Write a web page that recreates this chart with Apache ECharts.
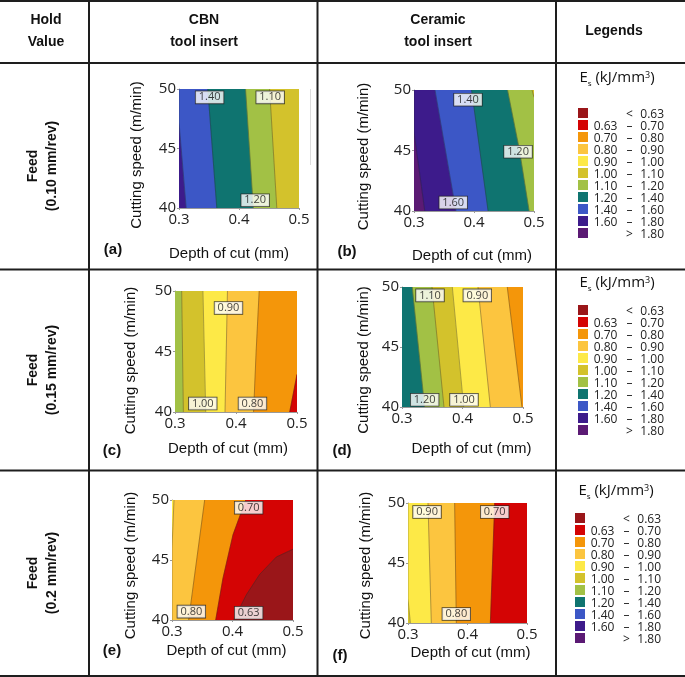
<!DOCTYPE html>
<html>
<head>
<meta charset="utf-8">
<title>Es contour maps</title>
<script src="https://cdn.jsdelivr.net/npm/echarts@6/dist/echarts.min.js"></script>
<style>html,body{margin:0;background:#fff}#main{width:685px;height:677px}</style>
</head>
<body>
<div id="main"></div>
<script>
// axes: depth of cut (mm) and cutting speed (m/min)
var depthRange = [0.3, 0.5];
var speedRange = [40, 50];

// Es classes (kJ/mm3)
var esBreaks = [0.63, 0.70, 0.80, 0.90, 1.00, 1.10, 1.20, 1.40, 1.60, 1.80];
var esColors = ['#9a1619', '#d40404', '#f4960a', '#fcc53f', '#fde947', '#d3c22c',
                '#a2c145', '#0f7470', '#3c57c6', '#3d1b8b', '#5b1a74'];

// contour lines, left to right, points as [depth, speed]
// band values = Es inside each band, left to right
// tags = contour labels [depth, speed, text]

// (a) CBN, feed 0.10
var contA = [
  [[0.312, 40], [0.300, 47.2], [0.300, 50]],
  [[0.363, 40], [0.348, 50]],
  [[0.424, 40], [0.411, 50]],
  [[0.463, 40], [0.451, 50]]
];
var bandA = [1.70, 1.50, 1.30, 1.15, 1.05];
var tagA = [[0.351, 49.3, '1.40'], [0.452, 49.3, '1.10'], [0.427, 40.65, '1.20']];

// (b) ceramic, feed 0.10
var contB = [
  [[0.318, 40], [0.300, 46.5], [0.300, 50]],
  [[0.370, 40], [0.335, 50]],
  [[0.4235, 40], [0.396, 50]],
  [[0.492, 40], [0.476, 45], [0.456, 50]],
  [[0.4967, 50], [0.500, 49.4]]
];
var bandB = [1.90, 1.70, 1.50, 1.30, 1.15, 1.05];
var tagB = [[0.390, 49.2, '1.40'], [0.4734, 44.9, '1.20'], [0.3654, 40.7, '1.60']];

// (c) CBN, feed 0.15
var contC = [
  [[0.3137, 40], [0.311, 50]],
  [[0.3504, 40], [0.3458, 50]],
  [[0.382, 40], [0.386, 50]],
  [[0.4288, 40], [0.433, 45], [0.438, 50]],
  [[0.488, 40], [0.500, 43.1]]
];
var bandC = [1.15, 1.05, 0.95, 0.85, 0.75, 0.665];
var tagC = [[0.3877, 48.6, '0.90'], [0.3455, 40.7, '1.00'], [0.427, 40.7, '0.80']];

// (d) ceramic, feed 0.15
var contD = [
  [[0.3375, 40], [0.317, 50]],
  [[0.3694, 40], [0.3496, 50]],
  [[0.402, 40], [0.3832, 50]],
  [[0.446, 40], [0.4256, 50]],
  [[0.4983, 40], [0.474, 50]]
];
var bandD = [1.30, 1.15, 1.05, 0.95, 0.85, 0.75];
var tagD = [[0.3463, 49.3, '1.10'], [0.4245, 49.3, '0.90'], [0.3375, 40.6, '1.20'], [0.4025, 40.6, '1.00']];

// (e) CBN, feed 0.2
var contE = [
  [[0.300, 40], [0.300, 46], [0.3033, 50]],
  [[0.3275, 40], [0.354, 50]],
  [[0.3722, 40], [0.3843, 43.5], [0.4008, 47.1], [0.4218, 50]],
  [[0.4019, 40], [0.4229, 42.1], [0.4449, 43.8], [0.4725, 45.25], [0.500, 45.9]]
];
var bandE = [0.95, 0.85, 0.75, 0.665, 0.60];
var tagE = [[0.4267, 49.36, '0.70'], [0.332, 40.7, '0.80'], [0.4267, 40.6, '0.63']];

// (f) ceramic, feed 0.2
var contF = [
  [[0.304, 40], [0.300, 42], [0.300, 50]],
  [[0.3392, 40], [0.3336, 50]],
  [[0.3812, 40], [0.3784, 50]],
  [[0.4384, 40], [0.4457, 50]]
];
var bandF = [1.05, 0.95, 0.85, 0.75, 0.665];
var tagF = [[0.332, 49.25, '0.90'], [0.4457, 49.25, '0.70'], [0.3812, 40.75, '0.80']];

var panelNames = ['(a)', '(b)', '(c)', '(d)', '(e)', '(f)'];
var feedNames = ['(0.10 mm/rev)', '(0.15 mm/rev)', '(0.2 mm/rev)'];

var plots = [
  {c: contA, b: bandA, t: tagA},
  {c: contB, b: bandB, t: tagB},
  {c: contC, b: bandC, t: tagC},
  {c: contD, b: bandD, t: tagD},
  {c: contE, b: bandE, t: tagE},
  {c: contF, b: bandF, t: tagF}
];

// layout of each small plot
var boxes = [
  {left: 179, top: 89, width: 120, height: 119, xGap: 38, xPad: [0, 20, 0, 0], yGap: 35, yPad: [0, 13, 0, 0]},
  {left: 414, top: 90, width: 120, height: 121, xGap: 37, xPad: [0, 4, 0, 0], yGap: 43, yPad: [0, 12, 0, 0]},
  {left: 175, top: 291, width: 122, height: 121, xGap: 29, xPad: [0, 16, 0, 0], yGap: 37, yPad: [0, 18, 0, 0]},
  {left: 402, top: 287, width: 121, height: 120, xGap: 34, xPad: [0, 0, 0, 18], yGap: 31, yPad: [0, 26, 0, 0]},
  {left: 172, top: 500, width: 121, height: 120, xGap: 23, xPad: [0, 12, 0, 0], yGap: 34, yPad: [0, 11, 0, 0]},
  {left: 408, top: 503, width: 119, height: 120, xGap: 22, xPad: [0, 0, 0, 6], yGap: 35, yPad: [0, 5, 0, 0]}
];
var panelPos = [[113, 250], [347, 252], [112, 451], [342, 451], [112, 651], [340, 656]];

var myChart = echarts.init(document.getElementById('main'));

function bandRender(cont) {
  return function (params, api) {
    var i = params.dataIndex;
    var x0 = depthRange[0], x1 = depthRange[1], y0 = speedRange[0], y1 = speedRange[1];
    var pts, line = null;
    if (i === 0) {
      pts = [[x0, y0], [x0, y1], [x1, y1], [x1, y0]];
    } else {
      line = cont[i - 1];
      var last = line[line.length - 1];
      pts = line.concat([[x1, last[1]], [x1, line[0][1]]]);
    }
    var color = api.visual('color');
    var kids = [{
      type: 'polygon',
      shape: {points: pts.map(function (p) { return api.coord(p); })},
      style: {fill: color, stroke: color, lineWidth: 0.5}
    }];
    if (line) {
      kids.push({
        type: 'polyline',
        shape: {points: line.map(function (p) { return api.coord(p); })},
        style: {stroke: '#2a2a2a', lineWidth: 0.6, opacity: 0.6, fill: null}
      });
    }
    return {type: 'group', children: kids};
  };
}

var grids = [], xAxes = [], yAxes = [], series = [];
plots.forEach(function (p, k) {
  var bx = boxes[k];
  grids.push({left: bx.left, top: bx.top, width: bx.width, height: bx.height});
  xAxes.push({
    type: 'value', gridIndex: k, min: depthRange[0], max: depthRange[1], interval: 0.1,
    name: 'Depth of cut (mm)', nameLocation: 'middle', nameGap: bx.xGap,
    nameTextStyle: {fontFamily: 'Liberation Sans', fontSize: 15, color: '#111', padding: bx.xPad},
    axisLine: {lineStyle: {color: '#999', width: 1}},
    axisTick: {length: 2, lineStyle: {color: '#999'}},
    splitLine: {show: false},
    axisLabel: {fontFamily: 'Open Sans', fontSize: 15, color: '#222', margin: 4,
      formatter: function (v) { return v.toFixed(1); }}
  });
  yAxes.push({
    type: 'value', gridIndex: k, min: speedRange[0], max: speedRange[1], interval: 5,
    name: 'Cutting speed (m/min)', nameLocation: 'middle', nameRotate: 90, nameGap: bx.yGap,
    nameTextStyle: {fontFamily: 'Liberation Sans', fontSize: 15, color: '#111', padding: bx.yPad},
    axisLine: {show: true, lineStyle: {color: '#999', width: 1}},
    axisTick: {show: true, length: 2, lineStyle: {color: '#999'}},
    splitLine: {show: false},
    axisLabel: {fontFamily: 'Open Sans', fontSize: 15, color: '#222', margin: 3}
  });
  series.push({
    type: 'custom', xAxisIndex: k, yAxisIndex: k, clip: true, silent: true,
    renderItem: bandRender(p.c),
    encode: {x: -1, y: -1},
    data: p.b.map(function (v, i) { return [i, v]; })
  });
});
plots.forEach(function (p, k) {
  series.push({
    type: 'scatter', xAxisIndex: k, yAxisIndex: k, silent: true, z: 5,
    symbolSize: 0,
    data: p.t,
    label: {
      show: true, position: 'inside', formatter: function (q) { return q.value[2]; },
      fontFamily: 'Open Sans', fontSize: 11, lineHeight: 11, color: '#111',
      backgroundColor: '#fff', borderColor: '#222', borderWidth: 0.8, padding: [1, 3, 0, 3]
    }
  });
});

// legend pieces
var pieces = esColors.map(function (c, i) {
  var f = function (v) { return v.toFixed(2); };
  if (i === 0) return {lt: esBreaks[0], color: c, label: '{a| }{b|<}{c|' + f(esBreaks[0]) + '}'};
  if (i === esColors.length - 1) return {gte: esBreaks[i - 1], color: c, label: '{a| }{b|>}{c|' + f(esBreaks[i - 1]) + '}'};
  return {gte: esBreaks[i - 1], lt: esBreaks[i], color: c,
    label: '{a|' + f(esBreaks[i - 1]) + '}{b|\u2013}{c|' + f(esBreaks[i]) + '}'};
});
var legendSpots = [[578, 105], [578, 302], [575, 510]];
var lgFont = {fontFamily: 'Open Sans', fontSize: 12, lineHeight: 10, color: '#222', padding: [4, 0, 0, 0]};
var visualMaps = legendSpots.map(function (s, r) {
  return {
    type: 'piecewise', seriesIndex: [2 * r, 2 * r + 1], dimension: 1,
    inverse: true, orient: 'vertical', align: 'left', left: s[0], top: s[1], padding: 0,
    itemWidth: 10, itemHeight: 10, itemGap: -4, itemSymbol: 'rect', textGap: 4,
    pieces: pieces,
    textStyle: {
      fontFamily: 'Open Sans', fontSize: 12, lineHeight: 10, color: '#222',
      rich: {
        a: Object.assign({width: 27, align: 'right'}, lgFont),
        b: Object.assign({width: 21, align: 'center'}, lgFont),
        c: Object.assign({width: 24, align: 'right'}, lgFont)
      }
    }
  };
});

// table frame, headings and side labels
var ink = '#1e1e1e';
var graphic = [];
[1, 63, 269.5, 470.5, 676].forEach(function (y) {
  graphic.push({type: 'line', shape: {x1: 0, y1: y, x2: 685, y2: y}, style: {stroke: ink, lineWidth: 2}, silent: true});
});
[89, 317.5, 556].forEach(function (x) {
  graphic.push({type: 'line', shape: {x1: x, y1: 0, x2: x, y2: 677}, style: {stroke: ink, lineWidth: 2}, silent: true});
});
var headFont = 'bold 14px "Liberation Sans"';
[[46, 'Hold\nValue'], [204, 'CBN\ntool insert'], [438, 'Ceramic\ntool insert'], [614, 'Legends']].forEach(function (h) {
  graphic.push({type: 'text', x: h[0], y: 31, silent: true,
    style: {text: h[1], font: headFont, fill: '#111', align: 'center', verticalAlign: 'middle', lineHeight: 22}});
});
[166, 370, 573].forEach(function (y, r) {
  graphic.push({type: 'text', x: 43, y: y, rotation: Math.PI / 2, silent: true,
    style: {text: 'Feed\n' + feedNames[r], font: headFont, fill: '#111', align: 'center', verticalAlign: 'middle', lineHeight: 19}});
});
panelNames.forEach(function (n, k) {
  graphic.push({type: 'text', x: panelPos[k][0], y: panelPos[k][1], silent: true,
    style: {text: n, font: 'bold 15px "Liberation Sans"', fill: '#111', align: 'center', verticalAlign: 'middle'}});
});
[[617, 78], [617, 283], [616, 491]].forEach(function (t) {
  graphic.push({type: 'text', x: t[0], y: t[1], silent: true,
    style: {
      text: '{m|E}{s|s}{m| (kJ/mm}{p|3}{m|)}', align: 'center', verticalAlign: 'middle',
      rich: {
        m: {fontFamily: 'Open Sans', fontSize: 15, lineHeight: 20, fill: '#111'},
        s: {fontFamily: 'Open Sans', fontSize: 8, lineHeight: 8, verticalAlign: 'bottom', fill: '#111'},
        p: {fontFamily: 'Open Sans', fontSize: 9, lineHeight: 9, verticalAlign: 'top', padding: [3, 0, 0, 0], fill: '#111'}
      }
    }});
});
// faint leftover frame line beside plot (a)
graphic.push({type: 'line', shape: {x1: 310.5, y1: 89, x2: 310.5, y2: 165}, style: {stroke: '#ddd', lineWidth: 1}, silent: true});

var option = {
  backgroundColor: '#fff',
  animation: false,
  grid: grids,
  xAxis: xAxes,
  yAxis: yAxes,
  visualMap: visualMaps,
  series: series,
  graphic: graphic
};
myChart.setOption(option);
</script>
</body>
</html>
